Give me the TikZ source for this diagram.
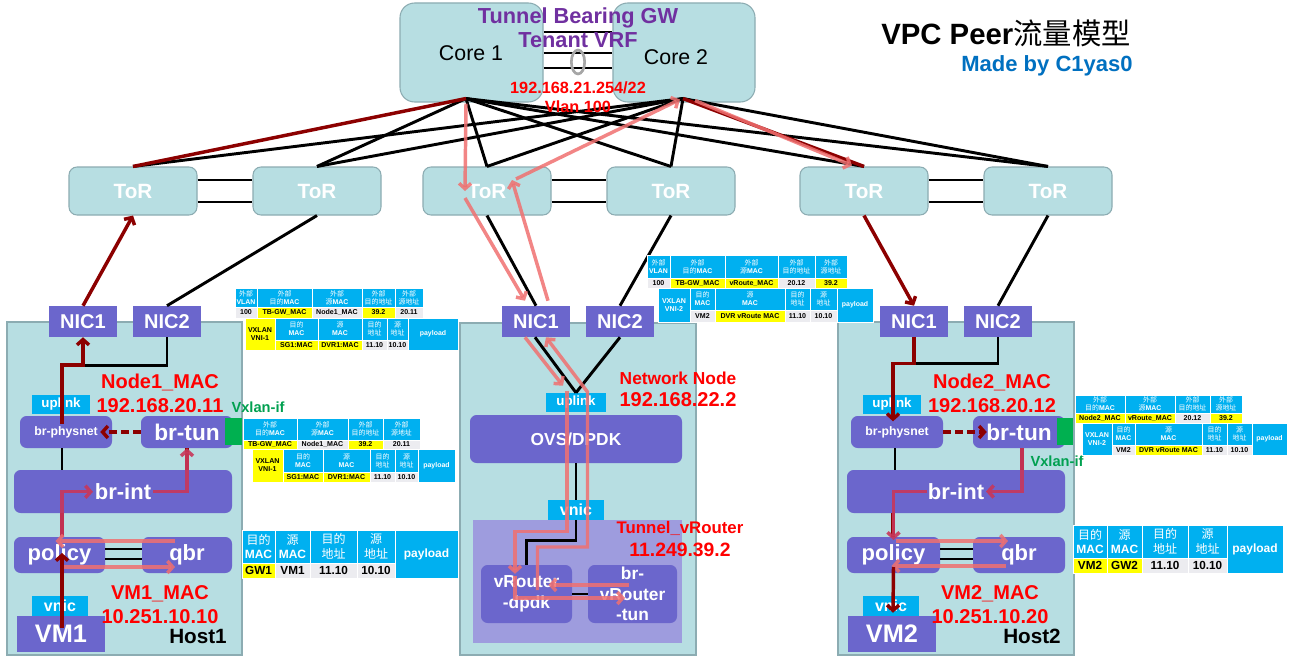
\documentclass[tikz,border=0pt]{standalone}
\usepackage{fontspec}
\setmainfont{Liberation Sans}
\newfontfamily\cjk{Noto Sans CJK SC}
\usetikzlibrary{arrows.meta,calc}
\definecolor{teal0}{RGB}{183,222,226}
\definecolor{tealb}{RGB}{140,172,178}
\definecolor{pur}{RGB}{107,102,204}
\definecolor{purl}{RGB}{158,156,222}
\definecolor{cyn}{RGB}{0,176,240}
\definecolor{dred}{RGB}{140,0,0}
\definecolor{flowpink}{RGB}{240,112,112}
\definecolor{rose}{RGB}{200,55,90}
\definecolor{ttlpur}{RGB}{112,48,160}
\definecolor{blu}{RGB}{0,112,192}
\definecolor{grn}{RGB}{0,176,80}
\definecolor{txtgrn}{RGB}{0,160,80}
\definecolor{cellg}{RGB}{236,236,240}
\definecolor{yel}{RGB}{255,255,0}
\newcommand\bx[7]{\node[#1,minimum width={(#5-(#3))*0.75pt},minimum height={(#6-(#4))*0.75pt}] (#2) at ({(#3+#5)/2},{(#4+#6)/2}) {#7};}
\newcounter{cc}
\newcommand\tc[7]{\stepcounter{cc}\node[tcell,#6,fill=#5,minimum width={(#3-(#1))*0.75pt},minimum height={(#4-(#2))*0.75pt}] (cell\arabic{cc}) at ({(#1+#3)/2},{(#2+#4)/2}) {#7};}
\newcommand\cj[1]{{\cjk\mdseries #1}}
\begin{document}
\begin{tikzpicture}[x=0.75pt,y=-0.75pt,
 core/.style={draw=tealb,fill=teal0,rounded corners=11pt,inner sep=0,line width=0.8pt},
 tor/.style={draw=tealb,fill=teal0,rounded corners=6pt,inner sep=0,line width=0.8pt,text=white,font=\bfseries\fontsize{15.5}{17}\selectfont},
 hostb/.style={draw=tealb,fill=teal0,inner sep=0,line width=0.8pt},
 nic/.style={fill=pur,inner sep=0,text=white,font=\bfseries\fontsize{15}{17}\selectfont},
 pbox/.style={fill=pur,rounded corners=5pt,inner sep=0,text=white,align=center,font=\bfseries\fontsize{16.5}{18}\selectfont},
 cbox/.style={fill=cyn,inner sep=0,text=white,font=\bfseries\fontsize{10}{12}\selectfont},
 lbl/.style={text=red,align=center,font=\bfseries\fontsize{15}{18}\selectfont},
 blk/.style={draw=black,line width=2.2pt},
 dr/.style={draw=dred,line width=2.6pt},
 arr/.style={-{Straight Barb[length=4pt,width=9pt]}},
 pk/.style={draw=flowpink,line width=2.6pt,draw opacity=0.85},
 rs/.style={draw=rose,line width=2.6pt,draw opacity=0.9},
 tcell/.style={draw=white,line width=0.5pt,inner sep=0,align=center},
 sh/.style={text=white,font=\bfseries\fontsize{5.2}{6}\selectfont},
 sd/.style={text=black,font=\bfseries\fontsize{5.3}{6}\selectfont},
 sdw/.style={text=white,font=\bfseries\fontsize{5.3}{6}\selectfont},
 lh/.style={text=white,font=\bfseries\fontsize{9}{11}\selectfont},
 ld/.style={text=black,font=\bfseries\fontsize{8.8}{10}\selectfont},
]
\fill[white] (0,0) rectangle (1289,660);
\useasboundingbox (0,0) rectangle (1289,660);

% host boxes
\bx{hostb}{host1}{7}{322}{242}{655}{}
\bx{hostb}{nnode}{460}{323}{696}{655}{}
\bx{hostb}{host2}{838}{322}{1074}{655}{}

% cores and ToRs
\bx{core}{core1}{400}{3}{543}{102}{}
\bx{core}{core2}{613}{3}{755}{102}{}
\bx{tor}{tor1}{69}{167}{197}{215}{ToR}
\bx{tor}{tor2}{253}{167}{381}{215}{ToR}
\bx{tor}{tor3}{423}{167}{551}{215}{ToR}
\bx{tor}{tor4}{607}{167}{735}{215}{ToR}
\bx{tor}{tor5}{800}{167}{928}{215}{ToR}
\bx{tor}{tor6}{984}{167}{1112}{215}{ToR}
\node[font=\fontsize{16}{18}\selectfont] (core1t) at (471,53) {Core 1};
\node[font=\fontsize{16}{18}\selectfont] (core2t) at (676,57) {Core 2};
\coordinate (c1p) at ([shift={(-5.5,-4)}]core1.south);
\coordinate (c2p) at ([shift={(-1,-4)}]core2.south);

% core mesh
\foreach \t in {tor2,tor3,tor4,tor5,tor6} \draw[blk] (c1p) -- (\t.north);
\foreach \t in {tor1,tor2,tor3,tor4,tor6} \draw[blk] (c2p) -- (\t.north);
\draw[dr] (c1p) -- (tor1.north);
\draw[dr] (c2p) -- (tor5.north);
% core-core links
\foreach \s in {-20.5,0.5,15.5} \draw[blk] ([shift={(0,\s)}]core1.east) -- ([shift={(0,\s)}]core2.west);
\draw[gray!70,line width=2pt] (578,62) ellipse [x radius=5pt,y radius=9pt];
% ToR pairs
\foreach \a/\b in {tor1/tor2,tor3/tor4,tor5/tor6}{
 \draw[blk] ([shift={(0,-11)}]\a.east) -- ([shift={(0,-11)}]\b.west);
 \draw[blk] ([shift={(0,11)}]\a.east) -- ([shift={(0,11)}]\b.west);}

% ===== Host1 =====
\bx{nic}{h1nic1}{49}{306}{117}{337}{NIC1}
\bx{nic}{h1nic2}{133}{306}{201}{337}{NIC2}
\bx{cbox}{h1up}{32}{395}{90}{414}{uplink}
\bx{pbox,font=\bfseries\fontsize{9.2}{11}\selectfont}{h1phys}{20}{416}{112}{448}{br-physnet}
\bx{pbox,font=\bfseries\fontsize{17}{19}\selectfont}{h1tun}{141}{416}{233}{448}{br-tun}
\bx{fill=grn,inner sep=0}{h1vx}{225}{418}{242}{445}{}
\bx{pbox}{h1int}{14}{470}{232}{513}{br-int}
\bx{pbox}{h1pol}{14}{537}{105}{573}{policy}
\bx{pbox}{h1qbr}{142}{537}{232}{573}{qbr}
\bx{cbox,font=\bfseries\fontsize{12}{14}\selectfont}{h1vnic}{32}{596}{88}{616}{vnic}
\bx{nic,font=\bfseries\fontsize{19}{21}\selectfont}{h1vm}{17}{616}{105}{652}{VM1}

% ===== Network node =====
\bx{nic}{nwnic1}{502}{306}{570}{337}{NIC1}
\bx{nic}{nwnic2}{586}{306}{654}{337}{NIC2}
\bx{cbox}{nwup}{546}{393}{606}{412}{uplink}
\bx{pbox,font=\bfseries\fontsize{13}{15}\selectfont}{ovs}{470}{415}{682}{463}{OVS/DPDK}
\bx{fill=purl,inner sep=0}{vrc}{473}{520}{682}{643}{}
\bx{cbox,font=\bfseries\fontsize{12}{14}\selectfont}{nwvnic}{548}{500}{604}{520}{vnic}
\bx{pbox,font=\bfseries\fontsize{13}{16}\selectfont}{vrd}{481}{565}{572}{623}{vRouter\\-dpdk}
\bx{pbox,font=\bfseries\fontsize{13}{15.5}\selectfont}{vrt}{588}{565}{677}{623}{br-\\vRouter\\-tun}

% ===== Host2 =====
\bx{nic}{h2nic1}{880}{306}{948}{337}{NIC1}
\bx{nic}{h2nic2}{964}{306}{1032}{337}{NIC2}
\bx{cbox}{h2up}{863}{395}{921}{414}{uplink}
\bx{pbox,font=\bfseries\fontsize{9.2}{11}\selectfont}{h2phys}{851}{416}{943}{448}{br-physnet}
\bx{pbox,font=\bfseries\fontsize{17}{19}\selectfont}{h2tun}{973}{416}{1065}{448}{br-tun}
\bx{fill=grn,inner sep=0}{h2vx}{1057}{418}{1073}{445}{}
\bx{pbox}{h2int}{847}{470}{1065}{513}{br-int}
\bx{pbox}{h2pol}{847}{537}{940}{573}{policy}
\bx{pbox}{h2qbr}{973}{537}{1065}{573}{qbr}
\bx{cbox,font=\bfseries\fontsize{12}{14}\selectfont}{h2vnic}{863}{596}{919}{616}{vnic}
\bx{nic,font=\bfseries\fontsize{19}{21}\selectfont}{h2vm}{848}{616}{936}{652}{VM2}

% NIC - ToR links
\draw[dr,arr] (h1nic1.north) -- (tor1.south);
\draw[blk] (h1nic2.north) -- (tor2.south);
\draw[blk] (nwnic1.north) -- (tor3.south);
\draw[blk] (nwnic2.north) -- (tor4.south);
\draw[dr,arr] (tor5.south) -- (h2nic1.north);
\draw[blk] (tor6.south) -- (h2nic2.north);

% Host1 internal lines
\draw[blk] ([shift={(0,28)}]h1nic1.south) -- ++(84,0) -- (h1nic2.south);
\draw[dr,arr] ([shift={(-4,-8)}]h1phys.center) -- ++(0,-59) -- ++(21,0) -- (h1nic1.south);
\draw[dr,dashed,dash pattern=on 6pt off 3pt,arr] (h1tun.west) -- ([shift={(-12,0)}]h1phys.east);
\draw[blk] ([shift={(-4,0)}]h1phys.south) -- ([shift={(-61,0)}]h1int.north);
\draw[dr] ([shift={(2.5,0)}]h1pol.north) -- ([shift={(-61,0)}]h1int.south);
\draw[dr] (h1tun.south) -- ++(0,22);
\draw[rs,arr] ([shift={(2.5,0)}]h1pol.north) -- ++(0,-45) -- ++(31,0);
\draw[rs,arr] ([shift={(30,0)}]h1int.center) -| (h1tun.south);
\draw[blk] ([shift={(0,-6)}]h1pol.east) -- ([shift={(0,-6)}]h1qbr.west);
\draw[blk] ([shift={(0,4)}]h1pol.east) -- ([shift={(0,4)}]h1qbr.west);
\draw[pk,arr] ([shift={(-12,-14)}]h1qbr.center) -- ([shift={(-4,-14)}]h1pol.center);
\draw[pk,arr] ([shift={(2.5,12)}]h1pol.center) -- ([shift={(-12,12)}]h1qbr.center);
\draw[dr,arr] ([shift={(1,-6)}]h1vm.center) -- ([shift={(2.5,-2)}]h1pol.center);

% Network node internal lines
\draw[blk] ([shift={(-1,0)}]nwnic1.south) -- (nwup.north);
\draw[blk] (nwnic2.south) -- (nwup.north);
\draw[blk] (ovs.south) -- (nwvnic.north);
\draw[blk] (nwvnic.south) -- ++(0,20) -| (vrd.north);
\draw[blk] (vrd.east) -- (vrt.west);
\draw[pk,arr] ([shift={(-11,0)}]nwnic1.south) -- ([shift={(-13,-7)}]nwup.north);
\draw[pk,arr] ([shift={(-9,-2)}]nwup.north) -- ++(0,141) -- ++(-52,0) -- ++(0,42);
\draw[pk,arr] ([shift={(-11.5,-18)}]vrd.center) -- ++(0,22) -- ++(110,0);
\draw[pk,arr] ([shift={(-4,-9)}]vrt.center) -- ([shift={(22,-9)}]vrd.center);
\draw[pk,arr] ([shift={(11,-4)}]vrd.center) -- ++(0,-43) -- ++(50,0) -- ++(0,-155) -- ([shift={(10,0)}]nwnic1.south);

% pink flow around ToR3 / cores
\draw[pk,arr] ([shift={(-5.5,1)}]core1.south) -- ([shift={(-22,0)}]tor3.center);
\draw[pk,arr] ([shift={(-22,7)}]tor3.center) -- ([shift={(-11,-5)}]nwnic1.north);
\draw[pk,arr] ([shift={(12,-5)}]nwnic1.north) -- ([shift={(25,-11)}]tor3.center);
\draw[pk,arr] ([shift={(29,-12)}]tor3.center) -- ([shift={(-4,-3)}]core2.south);
\draw[pk,arr] ([shift={(11,-2)}]core2.south) -- ([shift={(-12,-1)}]tor5.north);

% Host2 internal lines
\draw[blk] ([shift={(0,26)}]h2nic1.south) -- ++(84,0) -- (h2nic2.south);
\draw[dr,arr] (h2nic1.south) -- ++(0,26) -- ++(-21,0) -- ++(0,58);
\draw[dr,dashed,dash pattern=on 6pt off 3pt,arr] (h2phys.east) -- ([shift={(14,0)}]h2tun.west);
\draw[blk] ([shift={(-2,0)}]h2phys.south) -- ++(0,22);
\draw[dr] ([shift={(3,0)}]h2tun.south) -- ++(0,22);
\draw[dr] ([shift={(-63,0)}]h2int.south) -- ++(0,24);
\draw[rs,arr] ([shift={(3,0)}]h2tun.south) |- ([shift={(30,0)}]h2int.center);
\draw[rs,arr] ([shift={(-29,0)}]h2int.center) -| ([shift={(0,-15)}]h2pol.center);
\draw[blk] ([shift={(0,-6)}]h2pol.east) -- ([shift={(0,-6)}]h2qbr.west);
\draw[blk] ([shift={(0,4)}]h2pol.east) -- ([shift={(0,4)}]h2qbr.west);
\draw[pk,arr] ([shift={(2,-14)}]h2pol.center) -- ([shift={(-11,-14)}]h2qbr.center);
\draw[pk,arr] ([shift={(-13,11)}]h2qbr.center) -- ([shift={(-2,11)}]h2pol.center);
\draw[dr,arr] ([shift={(0,12)}]h2pol.center) -- ([shift={(1,-3)}]h2vm.north);

% labels
\node[text=ttlpur,align=center,font=\bfseries\fontsize{16.3}{18}\selectfont] (tbgw) at (578,28) {Tunnel Bearing GW\\Tenant VRF};
\node[text=red,align=center,font=\bfseries\fontsize{12.2}{14.2}\selectfont] (vlan) at (578,97) {192.168.21.254/22\\Vlan 100};
\node[font=\bfseries\fontsize{22}{26}\selectfont] (title) at (1006,33) {VPC Peer\cj{流量模型}};
\node[text=blu,font=\bfseries\fontsize{16.5}{19}\selectfont] (made) at (1047,66) {Made by C1yas0};
\node[lbl] (n1mac) at (160,393) {Node1\_MAC\\192.168.20.11};
\node[lbl] (vm1mac) at (160,605) {VM1\_MAC\\10.251.10.10};
\node[font=\bfseries\fontsize{15.5}{17}\selectfont] (h1lab) at (198,636) {Host1};
\node[text=txtgrn,font=\bfseries\fontsize{11}{13}\selectfont] (vx1) at (258,407) {Vxlan-if};
\node[lbl] (n2mac) at (992,393) {Node2\_MAC\\192.168.20.12};
\node[lbl] (vm2mac) at (990,605) {VM2\_MAC\\10.251.10.20};
\node[font=\bfseries\fontsize{15.5}{17}\selectfont] (h2lab) at (1032,636) {Host2};
\node[text=txtgrn,font=\bfseries\fontsize{11}{13}\selectfont] (vx2) at (1057,461) {Vxlan-if};
\node[lbl,font=\bfseries\fontsize{15}{16.5}\selectfont] (nwlab) at (678,389) {{\fontsize{13}{15}\selectfont Network Node}\\192.168.22.2};
\node[lbl,font=\bfseries\fontsize{14.5}{17}\selectfont] (tvr) at (680,539) {{\fontsize{12.6}{15}\selectfont Tunnel\_vRouter}\\11.249.39.2};

% ===== Table A =====
\tc{235}{288}{257}{307}{cyn}{sh}{\cj{外部}\\VLAN}
\tc{257}{288}{312}{307}{cyn}{sh}{\cj{外部}\\\cj{目的}MAC}
\tc{312}{288}{362}{307}{cyn}{sh}{\cj{外部}\\\cj{源}MAC}
\tc{362}{288}{395}{307}{cyn}{sh}{\cj{外部}\\\cj{目的地址}}
\tc{395}{288}{423}{307}{cyn}{sh}{\cj{外部}\\\cj{源地址}}
\tc{235}{307}{257}{318}{cellg}{sd}{100}
\tc{257}{307}{312}{318}{yel}{sd}{TB-GW\_MAC}
\tc{312}{307}{362}{318}{cellg}{sd}{Node1\_MAC}
\tc{362}{307}{395}{318}{yel}{sd}{39.2}
\tc{395}{307}{423}{318}{cellg}{sd}{20.11}
\tc{245}{318}{275}{350}{yel}{sd}{VXLAN\\VNI-1}
\tc{275}{318}{318}{340}{cyn}{sh}{\cj{目的}\\MAC}
\tc{318}{318}{362}{340}{cyn}{sh}{\cj{源}\\MAC}
\tc{362}{318}{387}{340}{cyn}{sh}{\cj{目的}\\\cj{地址}}
\tc{387}{318}{408}{340}{cyn}{sh}{\cj{源}\\\cj{地址}}
\tc{408}{318}{458}{350}{cyn}{sh}{payload}
\tc{275}{340}{318}{350}{yel}{sd}{SG1:MAC}
\tc{318}{340}{362}{350}{yel}{sd}{DVR1:MAC}
\tc{362}{340}{387}{350}{cellg}{sd}{11.10}
\tc{387}{340}{408}{350}{cellg}{sd}{10.10}

% ===== Table B =====
\tc{243}{418}{297}{440}{cyn}{sh}{\cj{外部}\\\cj{目的}MAC}
\tc{297}{418}{348}{440}{cyn}{sh}{\cj{外部}\\\cj{源}MAC}
\tc{348}{418}{383}{440}{cyn}{sh}{\cj{外部}\\\cj{目的地址}}
\tc{383}{418}{420}{440}{cyn}{sh}{\cj{外部}\\\cj{源地址}}
\tc{243}{440}{297}{449}{yel}{sd}{TB-GW\_MAC}
\tc{297}{440}{348}{449}{cellg}{sd}{Node1\_MAC}
\tc{348}{440}{383}{449}{yel}{sd}{39.2}
\tc{383}{440}{420}{449}{cellg}{sd}{20.11}
\tc{252}{449}{283}{482}{yel}{sd}{VXLAN\\VNI-1}
\tc{283}{449}{323}{472}{cyn}{sh}{\cj{目的}\\MAC}
\tc{323}{449}{370}{472}{cyn}{sh}{\cj{源}\\MAC}
\tc{370}{449}{395}{472}{cyn}{sh}{\cj{目的}\\\cj{地址}}
\tc{395}{449}{418}{472}{cyn}{sh}{\cj{源}\\\cj{地址}}
\tc{418}{449}{455}{482}{cyn}{sh}{payload}
\tc{283}{472}{323}{482}{yel}{sd}{SG1:MAC}
\tc{323}{472}{370}{482}{yel}{sd}{DVR1:MAC}
\tc{370}{472}{395}{482}{cellg}{sd}{11.10}
\tc{395}{472}{418}{482}{cellg}{sd}{10.10}

% ===== Table C =====
\tc{647}{255}{670}{278}{cyn}{sh}{\cj{外部}\\VLAN}
\tc{670}{255}{725}{278}{cyn}{sh}{\cj{外部}\\\cj{目的}MAC}
\tc{725}{255}{778}{278}{cyn}{sh}{\cj{外部}\\\cj{源}MAC}
\tc{778}{255}{815}{278}{cyn}{sh}{\cj{外部}\\\cj{目的地址}}
\tc{815}{255}{847}{278}{cyn}{sh}{\cj{外部}\\\cj{源地址}}
\tc{647}{278}{670}{288}{cellg}{sd}{100}
\tc{670}{278}{725}{288}{yel}{sd}{TB-GW\_MAC}
\tc{725}{278}{778}{288}{yel}{sd}{vRoute\_MAC}
\tc{778}{278}{815}{288}{cellg}{sd}{20.12}
\tc{815}{278}{847}{288}{yel}{sd}{39.2}
\tc{658}{288}{690}{322}{cyn}{sdw}{VXLAN\\VNI-2}
\tc{690}{288}{715}{310}{cyn}{sh}{\cj{目的}\\MAC}
\tc{715}{288}{785}{310}{cyn}{sh}{\cj{源}\\MAC}
\tc{785}{288}{810}{310}{cyn}{sh}{\cj{目的}\\\cj{地址}}
\tc{810}{288}{837}{310}{cyn}{sh}{\cj{源}\\\cj{地址}}
\tc{837}{288}{873}{322}{cyn}{sh}{payload}
\tc{690}{310}{715}{322}{cellg}{sd}{VM2}
\tc{715}{310}{785}{322}{yel}{sd}{DVR vRoute MAC}
\tc{785}{310}{810}{322}{cellg}{sd}{11.10}
\tc{810}{310}{837}{322}{cellg}{sd}{10.10}

% ===== Table D =====
\tc{1075}{395}{1125}{413}{cyn}{sh}{\cj{外部}\\\cj{目的}MAC}
\tc{1125}{395}{1175}{413}{cyn}{sh}{\cj{外部}\\\cj{源}MAC}
\tc{1175}{395}{1210}{413}{cyn}{sh}{\cj{外部}\\\cj{目的地址}}
\tc{1210}{395}{1242}{413}{cyn}{sh}{\cj{外部}\\\cj{源地址}}
\tc{1075}{413}{1125}{423}{yel}{sd}{Node2\_MAC}
\tc{1125}{413}{1175}{423}{yel}{sd}{vRoute\_MAC}
\tc{1175}{413}{1210}{423}{cellg}{sd}{20.12}
\tc{1210}{413}{1242}{423}{yel}{sd}{39.2}
\tc{1082}{423}{1112}{455}{cyn}{sdw}{VXLAN\\VNI-2}
\tc{1112}{423}{1135}{445}{cyn}{sh}{\cj{目的}\\MAC}
\tc{1135}{423}{1202}{445}{cyn}{sh}{\cj{源}\\MAC}
\tc{1202}{423}{1227}{445}{cyn}{sh}{\cj{目的}\\\cj{地址}}
\tc{1227}{423}{1252}{445}{cyn}{sh}{\cj{源}\\\cj{地址}}
\tc{1252}{423}{1287}{455}{cyn}{sh}{payload}
\tc{1112}{445}{1135}{455}{cellg}{sd}{VM2}
\tc{1135}{445}{1202}{455}{yel}{sd}{DVR vRoute MAC}
\tc{1202}{445}{1227}{455}{cellg}{sd}{11.10}
\tc{1227}{445}{1252}{455}{cellg}{sd}{10.10}

% ===== Table E =====
\tc{242}{530}{275}{563}{cyn}{lh}{\cj{目的}\\MAC}
\tc{275}{530}{310}{563}{cyn}{lh}{\cj{源}\\MAC}
\tc{310}{530}{357}{563}{cyn}{lh}{\cj{目的}\\\cj{地址}}
\tc{357}{530}{395}{563}{cyn}{lh}{\cj{源}\\\cj{地址}}
\tc{395}{530}{458}{578}{cyn}{lh}{payload}
\tc{242}{563}{275}{578}{yel}{ld}{GW1}
\tc{275}{563}{310}{578}{cellg}{ld}{VM1}
\tc{310}{563}{357}{578}{cellg}{ld}{11.10}
\tc{357}{563}{395}{578}{cellg}{ld}{10.10}

% ===== Table F =====
\tc{1073}{525}{1107}{558}{cyn}{lh}{\cj{目的}\\MAC}
\tc{1107}{525}{1142}{558}{cyn}{lh}{\cj{源}\\MAC}
\tc{1142}{525}{1188}{558}{cyn}{lh}{\cj{目的}\\\cj{地址}}
\tc{1188}{525}{1227}{558}{cyn}{lh}{\cj{源}\\\cj{地址}}
\tc{1227}{525}{1283}{573}{cyn}{lh}{payload}
\tc{1073}{558}{1107}{573}{yel}{ld}{VM2}
\tc{1107}{558}{1142}{573}{yel}{ld}{GW2}
\tc{1142}{558}{1188}{573}{cellg}{ld}{11.10}
\tc{1188}{558}{1227}{573}{cellg}{ld}{10.10}
\end{tikzpicture}
\end{document}
